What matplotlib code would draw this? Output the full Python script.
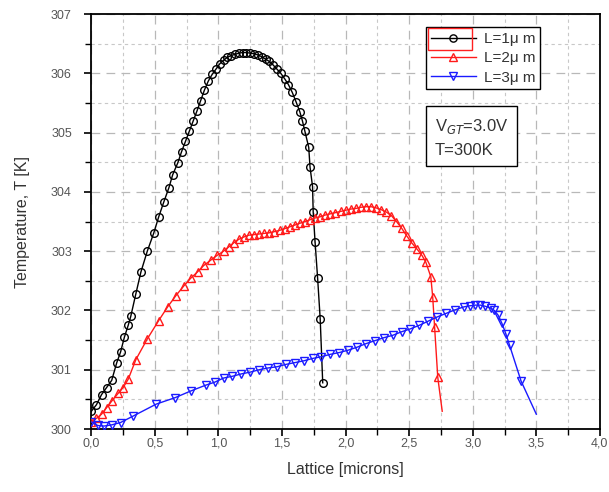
"""
plot.py

Lattice temperature along the channel for three gate lengths.
"""

import matplotlib
matplotlib.use("Agg")
import matplotlib.pyplot as plt
from matplotlib.patches import Rectangle
from matplotlib.ticker import MultipleLocator, FuncFormatter


# L = 1 um
x_l1 = [
    0.00, 0.04, 0.08, 0.12, 0.16, 0.20, 0.23, 0.26, 0.29, 0.31, 0.35, 0.39,
    0.44, 0.49, 0.53, 0.57, 0.61, 0.64, 0.68, 0.71, 0.74, 0.77, 0.80, 0.83,
    0.86, 0.89, 0.92, 0.95, 0.98, 1.01, 1.04, 1.07, 1.10, 1.13, 1.16, 1.19,
    1.22, 1.25, 1.28, 1.31, 1.34, 1.37, 1.40, 1.43, 1.46, 1.49, 1.52, 1.55,
    1.58, 1.61, 1.64, 1.66, 1.68, 1.71, 1.72, 1.74, 1.745, 1.76, 1.78, 1.80,
    1.82
]
t_l1 = [
    300.30, 300.41, 300.58, 300.70, 300.82, 301.12, 301.30, 301.55, 301.75,
    301.90, 302.28, 302.65, 303.00, 303.30, 303.58, 303.83, 304.07, 304.29,
    304.49, 304.68, 304.85, 305.02, 305.19, 305.36, 305.54, 305.72, 305.87,
    305.98, 306.07, 306.16, 306.22, 306.27, 306.30, 306.32, 306.34, 306.35,
    306.35, 306.34, 306.33, 306.31, 306.28, 306.24, 306.20, 306.14, 306.07,
    306.00, 305.91, 305.81, 305.68, 305.52, 305.35, 305.20, 305.02, 304.75,
    304.42, 304.09, 303.66, 303.15, 302.54, 301.86, 300.78
]

# L = 2 um
x_l2 = [
    0.00, 0.04, 0.08, 0.12, 0.16, 0.21, 0.25, 0.29, 0.35, 0.44, 0.53, 0.60,
    0.665, 0.73, 0.78, 0.835, 0.885, 0.94, 0.99, 1.04, 1.08, 1.12, 1.16,
    1.20, 1.24, 1.28, 1.32, 1.36, 1.40, 1.44, 1.48, 1.52, 1.56, 1.60, 1.64,
    1.68, 1.72, 1.76, 1.80, 1.84, 1.88, 1.92, 1.96, 2.00, 2.04, 2.08, 2.12,
    2.16, 2.20, 2.24, 2.28, 2.32, 2.36, 2.40, 2.44, 2.48, 2.52, 2.56, 2.60,
    2.63, 2.67, 2.685, 2.70, 2.725, 2.76
]
t_l2 = [
    300.12, 300.18, 300.25, 300.36, 300.47, 300.60, 300.70, 300.84, 301.17,
    301.52, 301.83, 302.06, 302.25, 302.42, 302.54, 302.65, 302.76, 302.85,
    302.93, 303.00, 303.07, 303.14, 303.20, 303.24, 303.27, 303.28, 303.29,
    303.30, 303.31, 303.33, 303.35, 303.38, 303.41, 303.44, 303.47, 303.50,
    303.53, 303.56, 303.58, 303.61, 303.63, 303.65, 303.67, 303.69, 303.71,
    303.72, 303.74, 303.75, 303.75, 303.73, 303.70, 303.66, 303.60, 303.50,
    303.39, 303.26, 303.14, 303.04, 302.93, 302.82, 302.57, 302.23, 301.72,
    300.87, 300.30
]

# L = 3 um
x_l3 = [
    0.00, 0.05, 0.10, 0.16, 0.23, 0.33, 0.51, 0.66, 0.78, 0.90, 0.97, 1.04,
    1.11, 1.18, 1.25, 1.32, 1.39, 1.46, 1.53, 1.60, 1.67, 1.74, 1.81, 1.88,
    1.95, 2.02, 2.09, 2.16, 2.23, 2.30, 2.37, 2.44, 2.51, 2.58, 2.65, 2.72,
    2.79, 2.86, 2.93, 2.98, 3.02, 3.06, 3.10, 3.14, 3.17, 3.20, 3.23, 3.26,
    3.29, 3.38, 3.50
]
t_l3 = [
    300.12, 300.06, 300.05, 300.07, 300.11, 300.22, 300.42, 300.53, 300.64,
    300.74, 300.79, 300.86, 300.89, 300.93, 300.96, 301.00, 301.03, 301.05,
    301.09, 301.12, 301.15, 301.19, 301.22, 301.26, 301.29, 301.33, 301.38,
    301.44, 301.49, 301.54, 301.58, 301.64, 301.69, 301.75, 301.82, 301.89,
    301.95, 302.01, 302.06, 302.08, 302.09, 302.09, 302.07, 302.04, 302.00,
    301.92, 301.78, 301.61, 301.41, 300.81, 300.25
]

labels = ["L=1μ m", "L=2μ m", "L=3μ m"]
colors = ["black", "#ff1a1a", "#1a1aff"]
markers = ["o", "^", "v"]


def comma(v, pos):
    return f"{v:.1f}".replace(".", ",")


def plot_results():
    plt.rcParams["font.family"] = ["Liberation Sans", "DejaVu Sans"]

    fig = plt.figure(figsize=(6.09, 4.92), dpi=100)
    ax = fig.add_axes([0.150, 0.128, 0.835, 0.8435])

    series = [(x_l1, t_l1, True), (x_l2, t_l2, False), (x_l3, t_l3, False)]
    for (xs, ys, mark_last), lab, col, mk in zip(series, labels, colors, markers):
        every = slice(None) if mark_last else slice(0, len(xs) - 1)
        ax.plot(xs, ys, color=col, lw=1.0, marker=mk, markevery=every,
                markersize=5.5, markerfacecolor="none", markeredgecolor=col,
                markeredgewidth=1.0, label=lab, zorder=3)

    ax.set_xlim(0, 4)
    ax.set_ylim(300, 307)
    ax.xaxis.set_major_locator(MultipleLocator(0.5))
    ax.xaxis.set_minor_locator(MultipleLocator(0.25))
    ax.yaxis.set_major_locator(MultipleLocator(1))
    ax.yaxis.set_minor_locator(MultipleLocator(0.5))
    ax.xaxis.set_major_formatter(FuncFormatter(comma))

    ax.grid(True, which="major", color="#b8b8b8", lw=0.9, ls=(0, (7, 5)))
    ax.grid(True, which="minor", color="#c8c8c8", lw=0.8, ls=(0, (3, 3)))
    ax.set_axisbelow(True)

    ax.tick_params(which="major", direction="out", length=5, width=1.2,
                   labelsize=9, labelcolor="#555555")
    ax.tick_params(which="minor", direction="out", length=4, width=1.0)
    ax.tick_params(axis="x", which="major", pad=1)
    ax.tick_params(axis="y", which="major", pad=9)
    for sp in ax.spines.values():
        sp.set_linewidth(1.3)

    ax.set_xlabel("Lattice [microns]", fontsize=11.5, color="#333333",
                  labelpad=9)
    ax.set_ylabel("Temperature, T [K]", fontsize=11.5, color="#333333",
                  labelpad=15)

    leg = ax.legend(loc="upper left", bbox_to_anchor=(0.658, 0.968),
                    fontsize=11, frameon=True, fancybox=False,
                    edgecolor="black", framealpha=1, borderpad=0.3,
                    labelspacing=0.35, handlelength=3.0, handletextpad=0.5,
                    borderaxespad=0, markerscale=0.95)
    leg.get_frame().set_linewidth(1.0)
    for t in leg.get_texts():
        t.set_color("#333333")

    ax.add_patch(Rectangle((0.663, 0.914), 0.086, 0.052,
                           transform=ax.transAxes, fill=False,
                           edgecolor="#ff2020", lw=1.0, zorder=6))

    ax.text(0.675, 0.703, "V$_{GT}$=3.0V\nT=300K", transform=ax.transAxes,
            fontsize=12, color="#333333", va="center", ha="left",
            linespacing=1.6,
            bbox=dict(boxstyle="square,pad=0.5", facecolor="white",
                      edgecolor="black", lw=1.0))

    fig.savefig("out.png", dpi=100)


if __name__ == "__main__":
    plot_results()
